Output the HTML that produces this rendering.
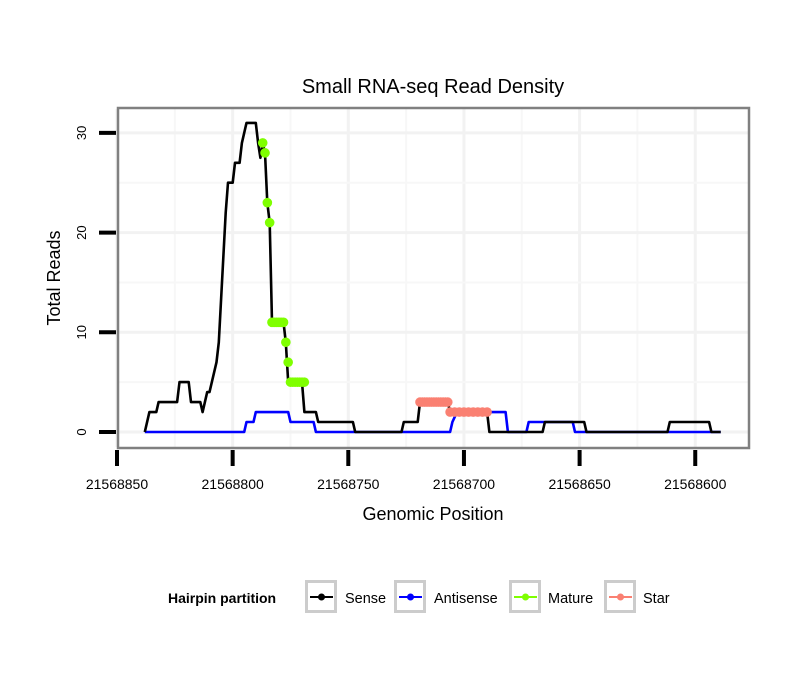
<!DOCTYPE html>
<html><head><meta charset="utf-8"><style>
body{margin:0;background:#fff;}
svg{display:block;font-family:"Liberation Sans",Arial,sans-serif;}
</style></head><body>
<svg id="chart" width="810" height="690" xmlns="http://www.w3.org/2000/svg">
<rect width="810" height="690" fill="#fff"/>
<text x="433" y="93" text-anchor="middle" font-size="20">Small RNA-seq Read Density</text>
<g id="grid"></g>
<g id="series"></g>
<rect x="118" y="108" width="631" height="340" fill="none" stroke="#808080" stroke-width="2.5"/>
<g id="axes"></g>
<text x="433" y="520" text-anchor="middle" font-size="18">Genomic Position</text>
<text transform="translate(60,278) rotate(-90)" text-anchor="middle" font-size="18">Total Reads</text>
<g id="legend">
<text x="168" y="603" font-size="14" font-weight="bold">Hairpin partition</text>
</g>
</svg>
<script>
const xTicks = [21568850, 21568800, 21568750, 21568700, 21568650, 21568600];
const yTicks = [0, 10, 20, 30];
const sensePos = [21568838,21568836,21568833,21568832,21568824,21568823,21568819,21568818,21568814,21568813,21568812,21568811,21568810,21568807,21568806,21568803,21568802,21568800,21568799,21568797,21568796,21568794,21568790,21568789,21568788,21568787,21568786,21568785,21568784,21568783,21568778,21568777,21568776.5,21568776,21568770,21568769,21568764,21568763,21568748,21568747,21568727,21568726,21568720,21568719,21568707,21568706,21568690,21568689,21568666,21568665,21568648,21568647,21568612,21568611,21568594,21568593,21568589];
const senseVal = [0,2,2,3,3,5,5,3,3,2,3,4,4,7,9,22,25,25,27,27,29,31,31,29,27.5,29,28,23,21,11,11,9,7,5,5,2,2,1,1,0,0,1,1,3,3,2,2,0,0,1,1,0,0,1,1,0,0];
const antiPos = [21568838,21568795,21568794,21568791,21568790,21568776,21568775,21568765,21568764,21568706,21568705,21568703,21568682,21568681,21568673,21568672,21568653,21568652,21568589];
const antiVal = [0,0,1,1,2,2,1,1,0,0,1,2,2,0,0,1,1,0,0];
const maturePos = [21568787,21568786,21568785,21568784,21568783,21568782,21568781,21568780,21568779,21568778,21568777,21568776,21568775,21568774,21568773,21568772,21568771,21568770,21568769];
const matureVal = [29,28,23,21,11,11,11,11,11,11,9,7,5,5,5,5,5,5,5];
const starPos = [21568719,21568718,21568717,21568716,21568715,21568714,21568713,21568712,21568711,21568710,21568709,21568708,21568707,21568706,21568704,21568702,21568700,21568698,21568696,21568694,21568692,21568690];
const starVal = [3,3,3,3,3,3,3,3,3,3,3,3,3,2,2,2,2,2,2,2,2,2];

const NS='http://www.w3.org/2000/svg';
const xs = p => 117 + (21568850 - p) * 2.313;
const ys = v => 432 - v * 9.97;
function mk(tag, attrs, parent){const e=document.createElementNS(NS,tag);for(const k in attrs)e.setAttribute(k,attrs[k]);parent.appendChild(e);return e;}
const grid=document.getElementById('grid'), series=document.getElementById('series'), axes=document.getElementById('axes'), legend=document.getElementById('legend');

for(let i=0;i<xTicks.length;i++){
  const g=mk('line',{x1:xs(xTicks[i]),x2:xs(xTicks[i]),y1:109,y2:447,stroke:'#f2f2f2','stroke-width':3},grid);
  
  
  const m=xTicks[i]-25;
  if(xs(m)<748){const g2=mk('line',{x1:xs(m),x2:xs(m),y1:109,y2:447,stroke:'#f7f7f7','stroke-width':2},grid);
  
  }
}
for(let i=0;i<yTicks.length;i++){
  const g=mk('line',{x1:119,x2:748,y1:ys(yTicks[i]),y2:ys(yTicks[i]),stroke:'#f2f2f2','stroke-width':3},grid);
  
  
  if(ys(yTicks[i]+5)>110){
  const g2=mk('line',{x1:119,x2:748,y1:ys(yTicks[i]+5),y2:ys(yTicks[i]+5),stroke:'#f7f7f7','stroke-width':2},grid);
  
  }
}
for(let i=0;i<xTicks.length;i++){
  const x=xs(xTicks[i]);
  const t=mk('line',{x1:x,x2:x,y1:450,y2:466,stroke:'#000','stroke-width':4},axes);
  
  
  const l=mk('text',{x:x,y:489,'text-anchor':'middle','font-size':14},axes);
  l.textContent=xTicks[i];
  
  
}
for(let i=0;i<yTicks.length;i++){
  const y=ys(yTicks[i]);
  const t=mk('line',{x1:99,x2:116,y1:y,y2:y,stroke:'#000','stroke-width':4},axes);
  
  
  const l=mk('text',{transform:`translate(86,${y}) rotate(-90)`,'text-anchor':'middle','font-size':13},axes);
  l.textContent=yTicks[i];
  
  
}
function line(pos,val,color,name){
  const d=pos.map((p,i)=>(i?'L':'M')+xs(p).toFixed(1)+','+ys(val[i]).toFixed(1)).join('');
  const e=mk('path',{d:d,fill:'none',stroke:color,'stroke-width':2.6,'stroke-linejoin':'round'},series);
  
  
}
line(antiPos,antiVal,'#0000ff','antisense-line');
line(sensePos,senseVal,'#000','sense-line');
function pts(pos,val,color,name){
  for(let i=0;i<pos.length;i++){
    const c=mk('circle',{cx:xs(pos[i]),cy:ys(val[i]),r:4.8,fill:color},series);
    
    
  }
}
pts(maturePos,matureVal,'#7fff00','mature-point');
pts(starPos,starVal,'#fa8072','star-point');
const keys=[['Sense','#000',305,345],['Antisense','#0000ff',394,434],['Mature','#7fff00',509,548],['Star','#fa8072',604,643]];
for(const k of keys){
  const b=mk('rect',{x:k[2]+1.5,y:581.5,width:29,height:30,fill:'#fff',stroke:'#cccccc','stroke-width':3},legend);
  
  
  mk('line',{x1:k[2]+5,x2:k[2]+28,y1:597,y2:597,stroke:k[1],'stroke-width':2},legend);
  mk('circle',{cx:k[2]+16.5,cy:597,r:3.5,fill:k[1]},legend);
  const t=mk('text',{x:k[3],y:603,'font-size':14.5},legend);
  t.textContent=k[0];
  
  
}
</script>
</body></html>
